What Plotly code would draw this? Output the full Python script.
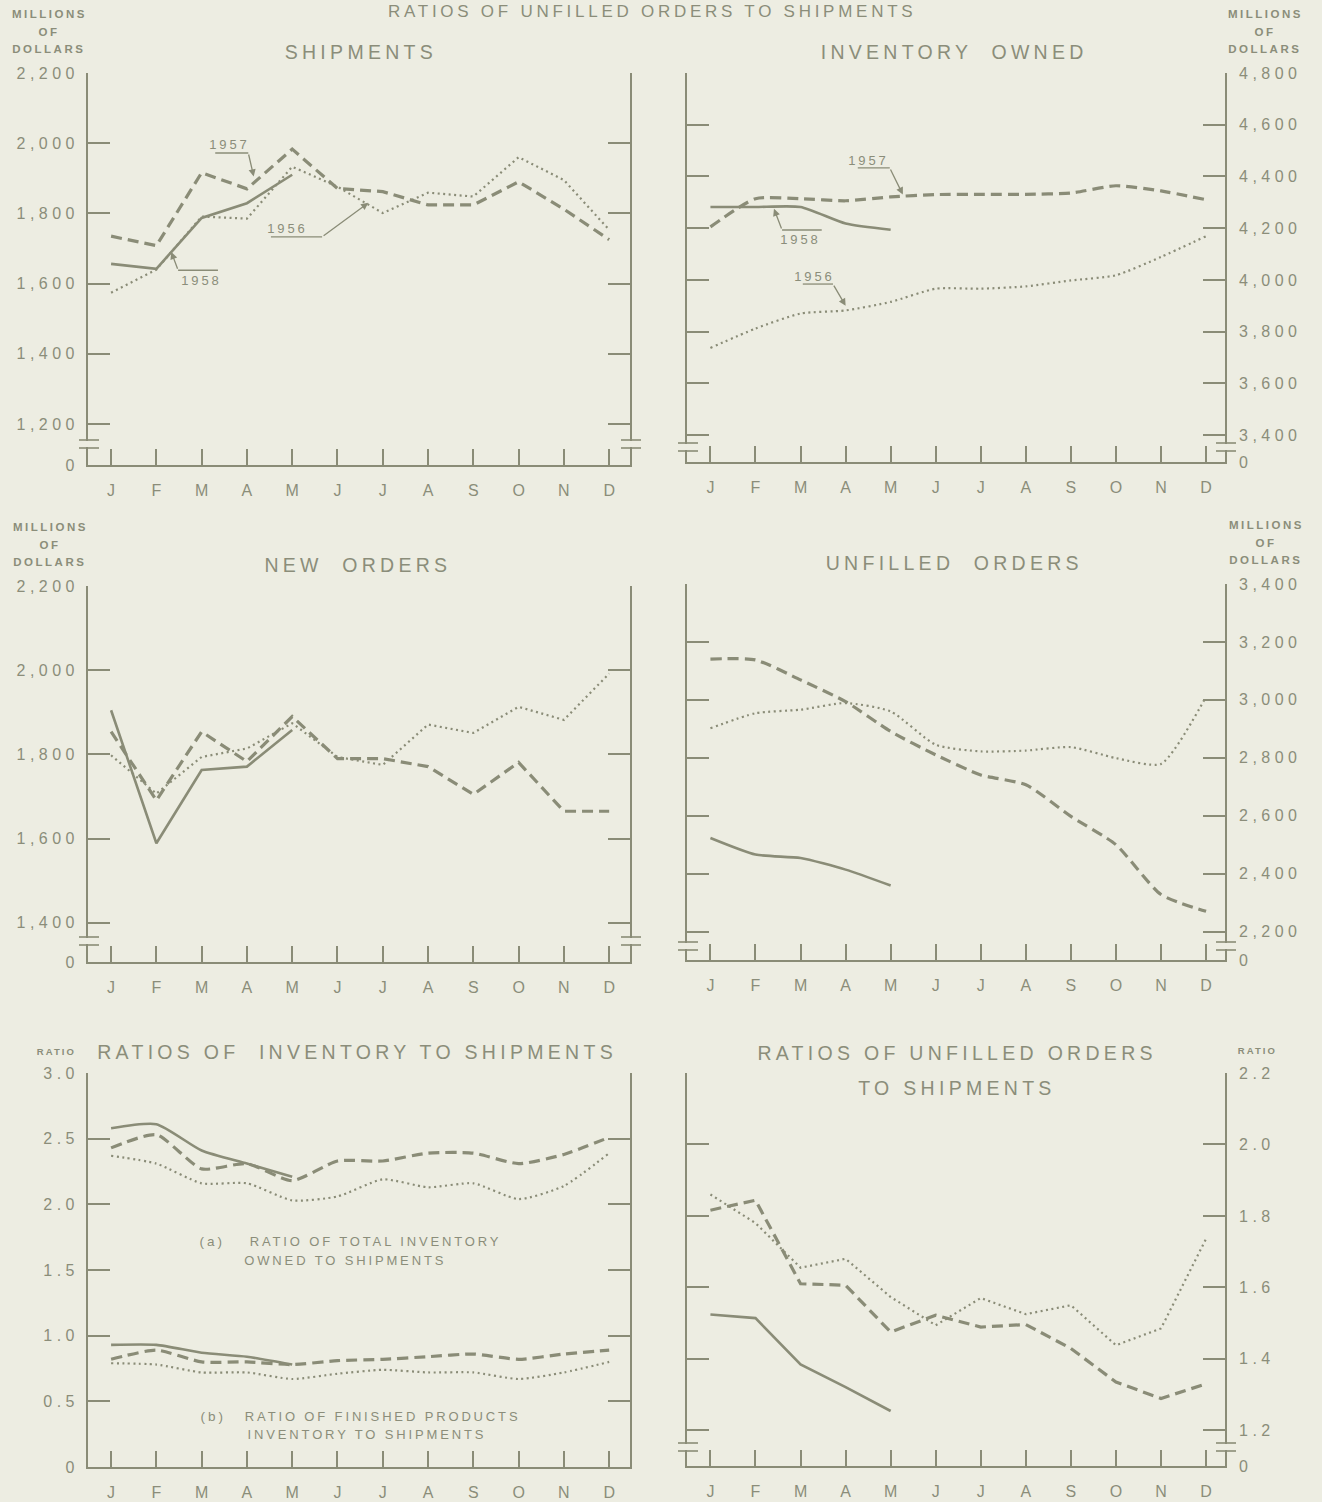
import plotly.graph_objects as go

# ---------------- data ----------------
months = ["J", "F", "M", "A", "M", "J", "J", "A", "S", "O", "N", "D"]

ship_1956 = [1574, 1640, 1791, 1785, 1933, 1876, 1801, 1859, 1848, 1960, 1895, 1753]
ship_1957 = [1735, 1708, 1916, 1870, 1983, 1871, 1862, 1824, 1824, 1890, 1812, 1725]
ship_1958 = [1656, 1642, 1787, 1829, 1910]

inv_1956 = [3737, 3812, 3870, 3882, 3915, 3966, 3966, 3975, 3998, 4018, 4089, 4169]
inv_1957 = [4205, 4314, 4314, 4306, 4321, 4330, 4331, 4331, 4336, 4364, 4344, 4310]
inv_1958 = [4282, 4282, 4282, 4218, 4194]

neword_1956 = [1798, 1707, 1794, 1814, 1874, 1794, 1775, 1871, 1851, 1913, 1882, 1992]
neword_1957 = [1854, 1691, 1854, 1783, 1890, 1790, 1790, 1771, 1705, 1781, 1665, 1665]
neword_1958 = [1905, 1589, 1763, 1771, 1858]

unfilled_1956 = [2902, 2954, 2966, 2989, 2960, 2845, 2822, 2825, 2837, 2799, 2779, 3011]
unfilled_1957 = [3141, 3138, 3069, 2994, 2891, 2810, 2741, 2707, 2598, 2500, 2328, 2270]
unfilled_1958 = [2523, 2466, 2454, 2414, 2359]

inv_ratio_1956 = [2.37, 2.31, 2.16, 2.16, 2.03, 2.06, 2.19, 2.13, 2.16, 2.04, 2.14, 2.39]
inv_ratio_1957 = [2.43, 2.53, 2.27, 2.31, 2.18, 2.33, 2.33, 2.39, 2.39, 2.31, 2.38, 2.51]
inv_ratio_1958 = [2.58, 2.61, 2.41, 2.31, 2.21]

fin_ratio_1956 = [0.79, 0.78, 0.72, 0.72, 0.67, 0.71, 0.74, 0.72, 0.72, 0.67, 0.72, 0.80]
fin_ratio_1957 = [0.82, 0.89, 0.80, 0.80, 0.78, 0.81, 0.82, 0.84, 0.86, 0.82, 0.86, 0.89]
fin_ratio_1958 = [0.93, 0.93, 0.87, 0.84, 0.78]

unf_ratio_1956 = [1.86, 1.78, 1.655, 1.68, 1.573, 1.494, 1.57, 1.525, 1.55, 1.438, 1.485, 1.736]
unf_ratio_1957 = [1.816, 1.844, 1.61, 1.606, 1.475, 1.522, 1.489, 1.496, 1.429, 1.335, 1.289, 1.33]
unf_ratio_1958 = [1.524, 1.514, 1.384, 1.321, 1.254]

# y tick values / labels (the bottom "0" sits at the broken-axis base)
ship_ticks = [1200, 1400, 1600, 1800, 2000, 2200]
ship_base = 1083
inv_ticks = [3400, 3600, 3800, 4000, 4200, 4400, 4600, 4800]
inv_base = 3296
neword_ticks = [1400, 1600, 1800, 2000, 2200]
neword_base = 1307
unfilled_ticks = [2200, 2400, 2600, 2800, 3000, 3200, 3400]
unfilled_base = 2102
ratio_ticks = [0, 0.5, 1.0, 1.5, 2.0, 2.5, 3.0]
ratio_labels = ["0", "0.5", "1.0", "1.5", "2.0", "2.5", "3.0"]
unf_ratio_ticks = [1.2, 1.4, 1.6, 1.8, 2.0, 2.2]
unf_ratio_base = 1.1

# ---------------- styling ----------------
W, H = 1322, 1502
BG = "#edede2"
INK = "#8b8d7a"
LINE = "#8a8c77"
FONT = "Liberation Sans"


def fx(x):
    return x / W


def fy(y):
    return 1 - y / H


def fmt(v):
    return f"{v:,.0f}"


styles = {
    "1958": dict(color=LINE, width=2.6, dash="solid"),
    "1957": dict(color=LINE, width=3.2, dash="11px,6px"),
    "1956": dict(color=LINE, width=2.2, dash="2px,3.5px"),
}

panels = [
    dict(n=1, px=(88, 630), py=(73, 465), xr=(-0.51, 11.46), yr=(ship_base, 2200),
         tv=[ship_base] + ship_ticks, tt=["0"] + [fmt(v) for v in ship_ticks], side="left",
         series=[("1956", ship_1956), ("1957", ship_1957), ("1958", ship_1958)],
         brk=(440, 448), shape="linear"),
    dict(n=2, px=(687, 1225), py=(73, 462), xr=(-0.52, 11.42), yr=(inv_base, 4800),
         tv=[inv_base] + inv_ticks, tt=["0"] + [fmt(v) for v in inv_ticks], side="right",
         series=[("1956", inv_1956), ("1957", inv_1957), ("1958", inv_1958)],
         brk=(443, 451), shape="spline"),
    dict(n=3, px=(88, 630), py=(586, 962), xr=(-0.51, 11.46), yr=(neword_base, 2200),
         tv=[neword_base] + neword_ticks, tt=["0"] + [fmt(v) for v in neword_ticks], side="left",
         series=[("1956", neword_1956), ("1957", neword_1957), ("1958", neword_1958)],
         brk=(937, 945), shape="linear"),
    dict(n=4, px=(687, 1225), py=(584, 960), xr=(-0.52, 11.42), yr=(unfilled_base, 3400),
         tv=[unfilled_base] + unfilled_ticks, tt=["0"] + [fmt(v) for v in unfilled_ticks], side="right",
         series=[("1956", unfilled_1956), ("1957", unfilled_1957), ("1958", unfilled_1958)],
         brk=(942, 950), shape="spline"),
    dict(n=5, px=(88, 630), py=(1073, 1467), xr=(-0.51, 11.46), yr=(0, 3.0),
         tv=ratio_ticks, tt=ratio_labels, side="left",
         series=[("1956", inv_ratio_1956), ("1957", inv_ratio_1957), ("1958", inv_ratio_1958),
                 ("1956", fin_ratio_1956), ("1957", fin_ratio_1957), ("1958", fin_ratio_1958)],
         brk=None, shape="spline"),
    dict(n=6, px=(687, 1225), py=(1073, 1466), xr=(-0.52, 11.42), yr=(unf_ratio_base, 2.2),
         tv=[unf_ratio_base] + unf_ratio_ticks, tt=["0"] + [f"{v:.1f}" for v in unf_ratio_ticks], side="right",
         series=[("1956", unf_ratio_1956), ("1957", unf_ratio_1957), ("1958", unf_ratio_1958)],
         brk=(1443, 1451), shape="linear"),
]

fig = go.Figure()
layout = dict(
    width=W, height=H, autosize=False, showlegend=False,
    margin=dict(l=0, r=0, t=0, b=0, pad=0, autoexpand=False),
    paper_bgcolor=BG, plot_bgcolor=BG,
    font=dict(family=FONT, color=INK),
)
shapes = []
annotations = []

for p in panels:
    n = p["n"]
    xa = "x" if n == 1 else f"x{n}"
    ya = "y" if n == 1 else f"y{n}"
    for year, vals in p["series"]:
        st = styles[year]
        fig.add_trace(go.Scatter(
            x=list(range(len(vals))), y=vals, mode="lines", xaxis=xa, yaxis=ya,
            line=dict(color=st["color"], width=st["width"], dash=st["dash"],
                      shape=p["shape"], smoothing=0.6),
            hoverinfo="skip", name=year))
    layout[f"xaxis{'' if n == 1 else n}"] = dict(
        domain=[fx(p["px"][0]), fx(p["px"][1])], range=list(p["xr"]), anchor=ya,
        tickvals=list(range(12)), ticktext=months, ticks="inside", ticklen=16,
        tickwidth=1.5, tickcolor=LINE, showline=True, linecolor=LINE, linewidth=1.6,
        showgrid=False, zeroline=False, tickfont=dict(size=16, color=INK),
        ticklabelstandoff=10, automargin=False, fixedrange=True)
    layout[f"yaxis{'' if n == 1 else n}"] = dict(
        domain=[fy(p["py"][1]), fy(p["py"][0])], range=list(p["yr"]), anchor=xa,
        side=p["side"], tickvals=p["tv"], ticktext=p["tt"], ticks="inside", ticklen=22,
        tickwidth=1.5, tickcolor=LINE, showline=True, mirror="ticks", linecolor=LINE,
        linewidth=1.6, showgrid=False, zeroline=False,
        tickfont=dict(size=16, color=INK), ticklabelstandoff=4 if p["side"] == "left" else 9,
        automargin=False, fixedrange=True)
    if p["brk"]:
        b1, b2 = p["brk"]
        for axx in p["px"]:
            shapes.append(dict(type="rect", xref="paper", yref="paper",
                               x0=fx(axx - 3), x1=fx(axx + 3), y0=fy(b2 - 1), y1=fy(b1 + 1),
                               fillcolor=BG, line=dict(width=0), layer="above"))
            for b in (b1, b2):
                shapes.append(dict(type="line", xref="paper", yref="paper",
                                   x0=fx(axx - 9), x1=fx(axx + 11), y0=fy(b), y1=fy(b),
                                   line=dict(color=LINE, width=1.6), layer="above"))


def ptext(text, x, y, size, bold=False):
    annotations.append(dict(
        text=f"<b>{text}</b>" if bold else text, xref="paper", yref="paper",
        x=fx(x), y=fy(y), xanchor="center", yanchor="middle", showarrow=False,
        font=dict(size=size, color=INK, family=FONT)))


# overall heading (clipped at the top edge in the reference; kept fully visible here)
ptext("RATIOS OF UNFILLED ORDERS TO SHIPMENTS", 652, 12, 17)
# panel titles
ptext("SHIPMENTS", 361, 52, 19.5)
ptext("INVENTORY  OWNED", 954, 52, 19.5)
ptext("NEW  ORDERS", 358, 565, 19.5)
ptext("UNFILLED  ORDERS", 955, 563, 19.5)
ptext("RATIOS OF  INVENTORY TO SHIPMENTS", 357, 1052, 19.5)
ptext("RATIOS OF UNFILLED ORDERS", 957, 1053, 19.5)
ptext("TO SHIPMENTS", 957, 1088, 19.5)
# unit labels
for (cx, y0) in [(49, 14), (1265, 14), (50, 527), (1266, 525)]:
    ptext("MILLIONS", cx, y0, 11.5, bold=True)
    ptext("OF", cx, y0 + 18, 11.5, bold=True)
    ptext("DOLLARS", cx, y0 + 35, 11.5, bold=True)
ptext("RATIO", 56, 1051, 9.5, bold=True)
ptext("RATIO", 1257, 1050, 9.5, bold=True)
# ratio notes
ptext("(a)", 212, 1241, 13.5)
ptext("RATIO OF TOTAL INVENTORY", 375, 1241, 13)
ptext("OWNED TO SHIPMENTS", 345, 1260, 13)
ptext("(b)", 213, 1416, 13.5)
ptext("RATIO OF FINISHED PRODUCTS", 383, 1416, 13)
ptext("INVENTORY TO SHIPMENTS", 367, 1434, 13)


# year call-outs: label, underline, arrow (data coordinates)
def callout(n, label, tx, ty, ux0, ux1, uy, hx, hy, tail_left=False):
    xa = "x" if n == 1 else f"x{n}"
    ya = "y" if n == 1 else f"y{n}"
    annotations.append(dict(text=label, x=tx, y=ty, xref=xa, yref=ya, showarrow=False,
                            xanchor="center", yanchor="middle",
                            font=dict(size=13, color=INK, family=FONT)))
    shapes.append(dict(type="line", xref=xa, yref=ya, x0=ux0, x1=ux1, y0=uy, y1=uy,
                       line=dict(color=LINE, width=1.3)))
    sx = ux0 if tail_left else ux1
    annotations.append(dict(text="", x=hx, y=hy, xref=xa, yref=ya, ax=sx, ay=uy,
                            axref=xa, ayref=ya, showarrow=True, arrowhead=2,
                            arrowsize=1.1, arrowwidth=1.3, arrowcolor=LINE))


callout(1, "1957", 2.62, 1995, 2.3, 3.03, 1972, 3.15, 1905)
callout(1, "1956", 3.9, 1756, 3.53, 4.66, 1733, 5.68, 1830)
callout(1, "1958", 2.0, 1608, 1.48, 2.36, 1638, 1.33, 1690, tail_left=True)
callout(2, "1957", 3.5, 4460, 3.27, 3.98, 4433, 4.27, 4330)
callout(2, "1958", 2.0, 4158, 1.59, 2.47, 4193, 1.41, 4275, tail_left=True)
callout(2, "1956", 2.3, 4015, 2.05, 2.72, 3984, 3.0, 3900)

layout["shapes"] = shapes
layout["annotations"] = annotations
fig.update_layout(**layout)

post = """
var s=document.createElement('style');
s.innerHTML='html,body{margin:0;padding:0;background:%s} .annotation-text{letter-spacing:0.22em} .yaxislayer-above text{letter-spacing:0.28em}';
document.head.appendChild(s);
var gd=document.getElementById('{plot_id}');
gd.style.position='absolute'; gd.style.left='0px'; gd.style.top='0px';
""" % BG
fig.write_html("out.html", post_script=post, config={"displayModeBar": False})
